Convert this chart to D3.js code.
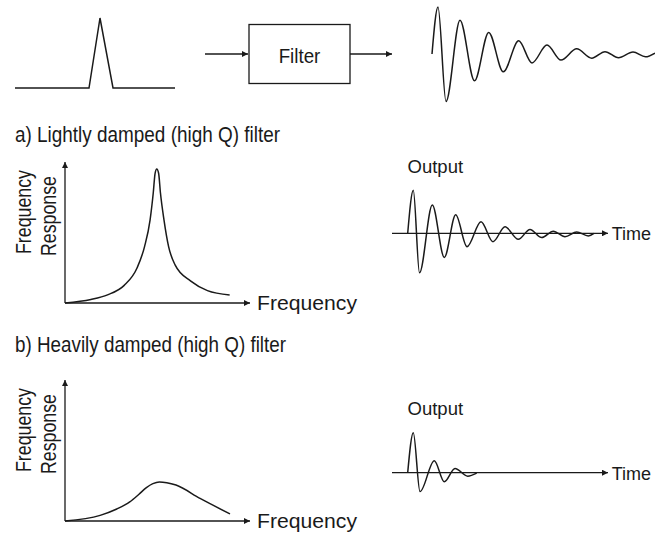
<!DOCTYPE html>
<html>
<head>
<meta charset="utf-8">
<script src="https://cdn.jsdelivr.net/npm/d3@7"></script>
<style>
  body { margin: 0; background: #fff; }
  text { font-family: "Liberation Sans", Arial, sans-serif; fill: #1a1a1a; }
</style>
</head>
<body>
<div id="chart"></div>
<script>
// input pulse (time, level)
var pulseT = [0, 74, 85, 98, 160];
var pulseV = [0, 0, 1, 0, 0];

// ringing output of the filter, top row (time, amplitude at each turn)
var topT = [0, 6, 14, 28, 42.5, 56.7, 71.3, 86.7, 100, 115, 129, 144.7, 159.7, 173, 186.5, 201, 213.5, 223];
var topV = [0, 1.0, -1.01, 0.72, -0.57, 0.46, -0.38, 0.28, -0.19, 0.19, -0.13, 0.11, -0.09, 0.05, -0.08, 0.04, -0.06, 0.02];

// a) lightly damped: frequency response
var freqA = [0, 1.4, 2.3, 3.2, 3.9, 4.3, 4.6, 4.77, 4.87, 4.96, 5.06, 5.16, 5.35, 5.6, 5.95, 6.8, 7.7, 8.9];
var respA = [0, 0.025, 0.058, 0.125, 0.25, 0.40, 0.59, 0.78, 0.92, 0.95, 0.92, 0.78, 0.59, 0.40, 0.27, 0.155, 0.088, 0.057];

// a) output
var outAT = [0, 5.6, 11.8, 24.6, 36.6, 48, 59.3, 73.3, 85.3, 97.3, 110.6, 122.3, 134, 145.6, 157.3, 169, 180.6, 186.3];
var outAV = [0, 1.0, -0.92, 0.66, -0.56, 0.43, -0.31, 0.27, -0.195, 0.15, -0.14, 0.09, -0.10, 0.05, -0.08, 0.03, -0.06, 0];

// b) heavily damped: frequency response
var freqB = [0, 1.9, 2.8, 3.5, 4.0, 4.4, 4.75, 5.1, 5.5, 6.0, 7.3, 8.92];
var respB = [0, 0.04, 0.085, 0.135, 0.19, 0.237, 0.265, 0.277, 0.272, 0.255, 0.16, 0.05];

// b) output
var outBT = [0, 5.6, 12.3, 26.6, 36.6, 47.3, 60, 69];
var outBV = [0, 0.93, -0.44, 0.28, -0.21, 0.10, -0.08, -0.01];

var titles = ["a) Lightly damped (high Q) filter", "b) Heavily damped (high Q) filter"];

var width = 655, height = 533;

var svg = d3.select("#chart")
  .append("svg")
    .attr("width", width)
    .attr("height", height);

svg.append("rect").attr("width", width).attr("height", height).attr("fill", "#fff");

svg.append("defs").append("marker")
    .attr("id", "head")
    .attr("viewBox", "0 0 10 10")
    .attr("refX", 10).attr("refY", 5)
    .attr("markerWidth", 7).attr("markerHeight", 6)
    .attr("markerUnits", "userSpaceOnUse")
    .attr("orient", "auto")
  .append("path")
    .attr("d", "M0,0L10,5L0,10z")
    .attr("fill", "#1a1a1a");

var ink = "#1a1a1a";

function arrow(x1, y1, x2, y2) {
  svg.append("line")
    .attr("x1", x1).attr("y1", y1).attr("x2", x2).attr("y2", y2)
    .attr("stroke", ink).attr("stroke-width", 1.3)
    .attr("marker-end", "url(#head)");
}

function curve(xs, ys, x, y, kind) {
  var line = d3.line()
    .x(function (d, i) { return x(xs[i]); })
    .y(function (d, i) { return y(ys[i]); })
    .curve(kind || d3.curveMonotoneX);
  svg.append("path")
    .attr("d", line(xs))
    .attr("fill", "none")
    .attr("stroke", ink)
    .attr("stroke-width", 1.5);
}

// condensed look: squeeze the text to the width it has in the picture
function label(x, y, str, size, w, anchor, rot) {
  var t = svg.append("text")
    .attr("text-anchor", anchor || "start")
    .style("font-size", size + "px")
    .text(str);
  if (w) t.attr("textLength", w).attr("lengthAdjust", "spacingAndGlyphs");
  if (rot) t.attr("transform", "translate(" + x + "," + y + ") rotate(-90)");
  else t.attr("x", x).attr("y", y);
  return t;
}

// ---- top row: pulse -> Filter -> ringing
var px = d3.scaleLinear().domain([0, 160]).range([15, 175]);
var py = d3.scaleLinear().domain([0, 1]).range([88, 18]);
curve(pulseT, pulseV, px, py, d3.curveLinear);

arrow(205, 54, 248, 54);
svg.append("rect")
  .attr("x", 249).attr("y", 24.5).attr("width", 101).attr("height", 59)
  .attr("fill", "none").attr("stroke", ink).attr("stroke-width", 1.3);
label(299.5, 63.3, "Filter", 21, 41.7, "middle");
arrow(350, 54, 392, 54);

var tx = d3.scaleLinear().domain([0, 224]).range([432, 656]);
var ty = d3.scaleLinear().domain([-1, 1]).range([101, 7]);
curve(topT, topV, tx, ty);

// ---- frequency response panels
function respPanel(dy, fs, rs, title, titleY, titleW) {
  label(15, titleY, title, 21.5, titleW);

  var x = d3.scaleLinear().domain([0, 10]).range([65, 250]);
  var y = d3.scaleLinear().domain([0, 1]).range([303 + dy, 162 + dy]);

  arrow(65, 303 + dy, 65, 162 + dy);
  arrow(65, 303 + dy, 250, 303 + dy);

  curve(fs, rs, x, y);

  label(257, 309.5 + dy, "Frequency", 21, 100);
  label(31, 212 + dy, "Frequency", 21.5, 84, "middle", true);
  label(55.5, 216 + dy, "Response", 21.5, 80, "middle", true);
}

function outPanel(labelY, axisY, ts, vs) {
  label(407.5, labelY, "Output", 18.5, 55.6);

  var x = d3.scaleLinear().domain([0, 200]).range([407.7, 607.7]);
  var y = d3.scaleLinear().domain([-1, 1]).range([axisY + 43, axisY - 43]);

  arrow(392, axisY, 608, axisY);
  curve(ts, vs, x, y);

  label(651, axisY + 7, "Time", 18, null, "end");
}

respPanel(0, freqA, respA, titles[0], 141.5, 265);
outPanel(173.3, 233.3, outAT, outAV);

respPanel(218, freqB, respB, titles[1], 351.5, 271);
outPanel(415, 472.7, outBT, outBV);
</script>
</body>
</html>
